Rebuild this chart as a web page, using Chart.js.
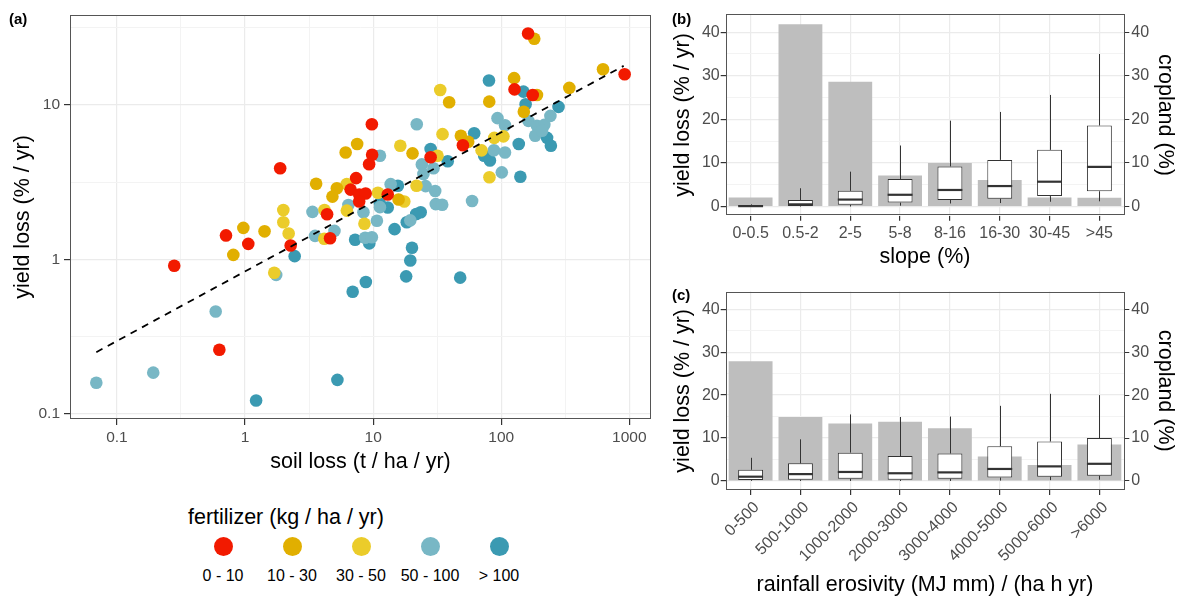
<!DOCTYPE html>
<html><head><meta charset="utf-8">
<script src="https://cdn.jsdelivr.net/npm/chart.js@4.4.0/dist/chart.umd.min.js"></script>
<style>
html,body{margin:0;padding:0;background:#fff;}
body{width:1196px;height:599px;position:relative;overflow:hidden;font-family:"Liberation Sans",Arial,sans-serif;color:#000;}
canvas{position:absolute;}
#ca{left:0;top:0;}
#cb{left:660px;top:0;}
#cc{left:660px;top:280px;}
.tag{position:absolute;font-weight:bold;font-size:15px;line-height:17px;}
.lgt{position:absolute;left:188px;top:504px;font-size:21.5px;line-height:26px;white-space:nowrap;}
.dot{position:absolute;width:19px;height:19px;border-radius:50%;}
.lab{position:absolute;width:80px;text-align:center;font-size:16px;line-height:20px;white-space:nowrap;}
</style>
</head><body>
<canvas id="ca" width="660" height="480"></canvas>
<canvas id="cb" width="536" height="275"></canvas>
<canvas id="cc" width="536" height="319"></canvas>
<div class="tag" style="left:9px;top:10px;">(a)</div>
<div class="tag" style="left:672px;top:10px;">(b)</div>
<div class="tag" style="left:672px;top:286px;">(c)</div>
<div class="lgt">fertilizer (kg / ha / yr)</div>
<div id="legend"></div>
<script>
// ---------- DATA ----------
const fertClasses = ['0 - 10','10 - 30','30 - 50','50 - 100','> 100'];
const fertColors = ['#F21A00','#E1AF00','#EBCC2A','#78B7C5','#3B9AB2'];

// [soil loss (t/ha/yr), yield loss (%/yr)]
const fert0to10 = [[0.28,0.91],[0.63,0.26],[0.71,1.43],[1.06,1.26],[2.27,1.23],[1.88,3.89],[4.37,1.96],[9.77,7.50],[9.82,4.76],[9.30,4.13],[7.36,3.36],[6.67,2.83],[7.78,2.63],[8.74,2.67],[7.78,2.37],[13.0,2.63],[4.61,1.37],[28.1,4.58],[50.2,5.48],[127,12.6],[176,11.6],[162,29.0],[919,15.8]];
const fert10to30 = [[0.81,1.07],[0.97,1.60],[1.42,1.52],[3.59,3.09],[5.21,2.89],[4.81,2.55],[6.10,4.92],[7.50,5.58],[15.8,2.44],[20.3,4.86],[39.2,10.4],[48.4,6.31],[55.2,5.77],[80.6,10.5],[126,14.9],[190,11.6],[150,9.04],[340,12.9],[181,26.8],[623,17.0]];
const fert30to50 = [[1.69,0.82],[1.99,2.09],[1.99,1.74],[2.19,1.47],[4.15,1.36],[4.17,2.09],[6.23,3.08],[6.23,2.07],[10.9,2.70],[8.55,1.70],[16.3,5.44],[17.5,2.37],[21.8,3.00],[31.8,4.69],[33.4,12.5],[34.8,6.47],[70.2,5.08],[80.9,3.40],[88.2,6.12],[104,6.26]];
const fert50to100 = [[0.069,0.159],[0.192,0.185],[0.590,0.460],[1.75,0.794],[3.36,2.03],[3.52,1.42],[4.99,1.53],[6.41,2.25],[8.40,2.02],[10.7,1.78],[8.66,1.38],[9.77,1.39],[11.3,4.69],[13.7,3.07],[11.3,2.18],[19.5,1.79],[21.9,7.50],[24.0,4.12],[29.6,3.89],[24.7,3.57],[25.7,2.98],[30.5,2.77],[30.8,2.28],[34.6,2.26],[59.2,2.39],[87.7,5.09],[107,4.92],[93.5,8.21],[107,7.38],[101,3.66],[163,7.88],[190,7.32],[217,7.43],[242,8.49],[184,6.31],[208,6.80]];
const fertOver100 = [[1.22,0.122],[2.44,1.05],[5.26,0.166],[6.92,0.617],[8.77,0.714],[7.23,1.34],[9.33,1.27],[14.7,1.57],[11.3,2.29],[13.0,2.17],[15.6,3.00],[18.1,0.777],[19.5,0.985],[20.1,1.19],[18.3,1.74],[21.7,1.97],[23.5,2.02],[47.8,0.762],[28.1,5.18],[38.2,4.32],[61.5,6.55],[73.6,4.69],[81.6,4.37],[137,5.58],[141,3.43],[80.2,14.4],[149,12.2],[155,10.1],[280,9.71],[228,6.12],[244,5.44]];

const trendSoil = [0.069, 903];
const trendYield = [0.251, 17.9];

const soilTicks = [0.1, 0.316, 1, 3.16, 10, 31.6, 100, 316, 1000];
const yieldTicks = [0.1, 0.316, 1, 3.16, 10, 31.6];

const slopeCats = ['0-0.5','0.5-2','2-5','5-8','8-16','16-30','30-45','>45'];
const slopeCropland = [2.1, 41.8, 28.6, 7.1, 10.0, 6.1, 2.1, 2.0];
const slopeLower  = [0, 0, 0, 0.2, 0.7, 0.8, 1.1, 1.2];
const slopeQ1     = [0, 0.15, 0.4, 0.9, 1.5, 1.8, 2.4, 3.5];
const slopeMedian = [0.1, 0.5, 1.6, 2.7, 3.8, 4.7, 5.7, 9.1];
const slopeQ3     = [0.3, 1.5, 3.6, 6.3, 9.2, 10.7, 13.0, 18.6];
const slopeUpper  = [0.5, 4.2, 8.0, 14.0, 19.7, 21.7, 25.6, 35.0];

const erosCats = ['0-500','500-1000','1000-2000','2000-3000','3000-4000','4000-5000','5000-6000','>6000'];
const erosCropland = [27.9, 14.9, 13.4, 13.8, 12.3, 5.7, 3.7, 8.5];
const erosLower  = [0, 0, 0, 0, 0, 0.1, 0.2, 0.3];
const erosQ1     = [0.2, 0.3, 0.5, 0.3, 0.5, 0.8, 1.0, 1.2];
const erosMedian = [1.0, 1.6, 2.1, 1.8, 2.0, 2.8, 3.4, 4.0];
const erosQ3     = [2.6, 4.1, 6.6, 5.8, 6.4, 8.1, 9.2, 10.0];
const erosUpper  = [5.4, 9.7, 15.5, 14.9, 15.0, 17.5, 20.3, 20.0];

const pctGrid = [0, 5, 10, 15, 20, 25, 30, 35, 40];
const pctLabels = [0, 10, 20, 30, 40];

// ---------- SETUP ----------
const FAM = '"Liberation Sans", Arial, sans-serif';
Chart.defaults.font.family = FAM;
Chart.defaults.color = '#4D4D4D';
const TICK = '#333333';
const GRID = '#EBEBEB';
const GRID_MINOR = '#F3F3F3';

function isDecade(v){ const l = Math.log10(v); return Math.abs(l - Math.round(l)) < 1e-6; }

const panelBorder = {
  id: 'panelBorder',
  afterDraw(chart){
    const a = chart.chartArea, ctx = chart.ctx;
    ctx.save();
    ctx.strokeStyle = '#555';
    ctx.lineWidth = 1;
    ctx.strokeRect(Math.round(a.left) + 0.5, Math.round(a.top) + 0.5, Math.round(a.right - a.left) - 1, Math.round(a.bottom - a.top) - 1);
    ctx.restore();
  }
};

function whiskerPlugin(lower, median, upper, q1, q3){
  return {
    id: 'whiskers',
    afterDatasetsDraw(chart){
      const ctx = chart.ctx, ys = chart.scales.y;
      const meta = chart.getDatasetMeta(0);
      ctx.save();
      ctx.strokeStyle = '#333';
      meta.data.forEach((bar, i) => {
        const x = Math.round(bar.x) + 0.5, hw = bar.width / 2;
        ctx.lineWidth = 1;
        ctx.beginPath();
        ctx.moveTo(x, ys.getPixelForValue(q3[i]));
        ctx.lineTo(x, ys.getPixelForValue(upper[i]));
        ctx.moveTo(x, ys.getPixelForValue(q1[i]));
        ctx.lineTo(x, ys.getPixelForValue(lower[i]));
        ctx.stroke();
        ctx.lineWidth = 2.2;
        ctx.beginPath();
        const ym = ys.getPixelForValue(median[i]);
        ctx.moveTo(bar.x - hw, ym);
        ctx.lineTo(bar.x + hw, ym);
        ctx.stroke();
      });
      ctx.restore();
    }
  };
}

// ---------- PANEL (a) ----------
const groups = [fert0to10, fert10to30, fert30to50, fert50to100, fertOver100];
const scatterSets = groups.map((g, i) => ({
  label: fertClasses[i],
  data: g.map(p => ({x: p[0], y: p[1]})),
  backgroundColor: fertColors[i],
  borderWidth: 0,
  pointRadius: 6.3,
  pointHoverRadius: 6.3,
  order: 2
}));
const trendSet = {
  label: 'fit',
  data: trendSoil.map((x, i) => ({x: x, y: trendYield[i]})),
  showLine: true,
  borderColor: '#000',
  borderWidth: 1.8,
  borderDash: [7, 6],
  pointRadius: 0,
  fill: false,
  order: 1
};

new Chart(document.getElementById('ca'), {
  type: 'scatter',
  data: { datasets: [trendSet, ...scatterSets] },
  options: {
    responsive: false, animation: false, events: [],
    layout: { padding: { top: 15, right: 9, left: 0, bottom: 0 } },
    plugins: { legend: { display: false }, tooltip: { enabled: false } },
    scales: {
      x: {
        type: 'logarithmic', min: 0.043, max: 1476,
        afterBuildTicks: s => { s.ticks = soilTicks.map(v => ({ value: v })); },
        afterFit: s => { s.height = 61; },
        border: { display: false },
        grid: {
          color: c => (c.tick && isDecade(c.tick.value)) ? GRID : GRID_MINOR,
          lineWidth: c => (c.tick && isDecade(c.tick.value)) ? 1.2 : 1,
          tickLength: 6,
          tickColor: c => (c.tick && isDecade(c.tick.value)) ? TICK : 'rgba(0,0,0,0)'
        },
        ticks: {
          autoSkip: false, maxRotation: 0, minRotation: 0, padding: 3,
          color: '#4D4D4D', font: { size: 15.5 },
          callback: v => isDecade(v) ? String(v) : ''
        },
        title: { display: true, text: 'soil loss (t / ha / yr)', color: '#000', font: { size: 21.5 }, padding: { top: 0, bottom: 5.4 } }
      },
      y: {
        type: 'logarithmic', min: 0.0927, max: 38.2,
        afterBuildTicks: s => { s.ticks = yieldTicks.map(v => ({ value: v })); },
        afterFit: s => { s.width = 70; },
        border: { display: false },
        grid: {
          color: c => (c.tick && isDecade(c.tick.value)) ? GRID : GRID_MINOR,
          lineWidth: c => (c.tick && isDecade(c.tick.value)) ? 1.2 : 1,
          tickLength: 6,
          tickColor: c => (c.tick && isDecade(c.tick.value)) ? TICK : 'rgba(0,0,0,0)'
        },
        ticks: {
          autoSkip: false, padding: 4, color: '#4D4D4D', font: { size: 15.5 },
          callback: v => isDecade(v) ? String(v) : ''
        },
        title: { display: true, text: 'yield loss (% / yr)', color: '#000', font: { size: 21.5 }, padding: { top: 10, bottom: 0 } }
      }
    }
  },
  plugins: [panelBorder]
});

// ---------- PANELS (b), (c) ----------
function makeBoxChart(id, cats, crop, lower, q1, med, q3, upper, xTitle, xHeight, padTop, rotate, xTitlePad, lblOffset){
  new Chart(document.getElementById(id), {
    type: 'bar',
    data: {
      labels: cats,
      datasets: [
        { label: 'yield loss', data: q1.map((v, i) => [v, q3[i]]), backgroundColor: '#FFFFFF', borderColor: '#333', borderWidth: 1, borderSkipped: false, barPercentage: 0.5, categoryPercentage: 1, grouped: false, yAxisID: 'y', order: 1 },
        { label: 'cropland', data: crop, backgroundColor: '#BEBEBE', borderWidth: 0, barPercentage: 0.88, categoryPercentage: 1, grouped: false, yAxisID: 'y2', order: 2 }
      ]
    },
    options: {
      responsive: false, animation: false, events: [],
      layout: { padding: { top: padTop, right: 0, left: 0, bottom: 0 } },
      plugins: { legend: { display: false }, tooltip: { enabled: false } },
      scales: {
        x: {
          offset: true,
          afterFit: s => { s.height = xHeight; },
          border: { display: false },
          grid: { offset: false, color: GRID, lineWidth: 1.2, tickLength: 5, tickColor: TICK },
          ticks: { autoSkip: false, maxRotation: rotate, minRotation: rotate, padding: 3, labelOffset: lblOffset, color: '#4D4D4D', font: { size: 16 } },
          title: { display: true, text: xTitle, color: '#000', font: { size: 21.5 }, padding: { top: 0, bottom: xTitlePad } }
        },
        y: {
          position: 'left', min: -2.1, max: 44.1,
          afterBuildTicks: s => { s.ticks = pctGrid.map(v => ({ value: v })); },
          afterFit: s => { s.width = 65.7; },
          border: { display: false },
          grid: {
            color: c => (c.tick && c.tick.value % 10 === 0) ? GRID : GRID_MINOR,
            lineWidth: c => (c.tick && c.tick.value % 10 === 0) ? 1.2 : 1,
            tickLength: 5,
            tickColor: c => (c.tick && c.tick.value % 10 === 0) ? TICK : 'rgba(0,0,0,0)'
          },
          ticks: { autoSkip: false, padding: 1, color: '#4D4D4D', font: { size: 16 }, callback: v => (v % 10 === 0) ? String(v) : '' },
          title: { display: true, text: 'yield loss (% / yr)', color: '#000', font: { size: 21.5 }, padding: { top: 10, bottom: 0 } }
        },
        y2: {
          position: 'right', min: -2.1, max: 44.1,
          afterBuildTicks: s => { s.ticks = pctLabels.map(v => ({ value: v })); },
          afterFit: s => { s.width = 71.7; },
          border: { display: false },
          grid: { drawOnChartArea: false, tickLength: 5, tickColor: TICK },
          ticks: { autoSkip: false, padding: 2, color: '#4D4D4D', font: { size: 16 } },
          title: { display: true, text: 'cropland (%)', color: '#000', font: { size: 21.5 }, padding: { top: 18, bottom: 0 } }
        }
      }
    },
    plugins: [whiskerPlugin(lower, med, upper, q1, q3), panelBorder]
  });
}

makeBoxChart('cb', slopeCats, slopeCropland, slopeLower, slopeQ1, slopeMedian, slopeQ3, slopeUpper, 'slope (%)', 59.3, 14.3, 0, 5.4, 0);
makeBoxChart('cc', erosCats, erosCropland, erosLower, erosQ1, erosMedian, erosQ3, erosUpper, 'rainfall erosivity (MJ mm) / (ha h yr)', 109, 10, 45, 1.1, 6);

// ---------- LEGEND ----------
const lg = document.getElementById('legend');
fertClasses.forEach((name, i) => {
  const cx = 223 + 69 * i;
  const d = document.createElement('div');
  d.className = 'dot';
  d.style.left = (cx - 9.5) + 'px';
  d.style.top = '536.5px';
  d.style.background = fertColors[i];
  lg.appendChild(d);
  const t = document.createElement('div');
  t.className = 'lab';
  t.style.left = (cx - 40) + 'px';
  t.style.top = '566px';
  t.textContent = name;
  lg.appendChild(t);
});
</script>
</body></html>
